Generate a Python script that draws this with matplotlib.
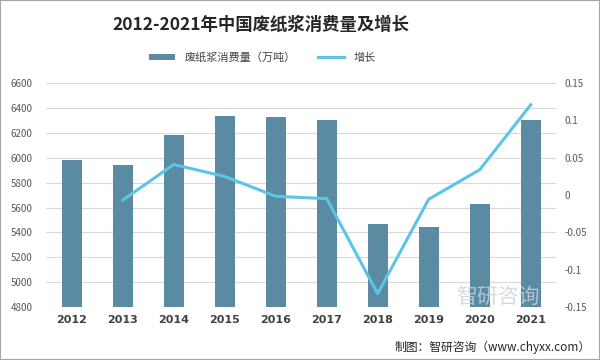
import numpy as np
import matplotlib.pyplot as plt
from matplotlib.patches import Rectangle

plt.rcParams['font.family'] = ['Noto Sans CJK SC', 'DejaVu Sans']

# Data
years = ['2012', '2013', '2014', '2015', '2016', '2017', '2018', '2019', '2020', '2021']
consumption = [5980, 5940, 6185, 6340, 6330, 6300, 5470, 5440, 5625, 6305]  # 万吨
growth_years = ['2013', '2014', '2015', '2016', '2017', '2018', '2019', '2020', '2021']
growth = [-0.0067, 0.041, 0.025, -0.0016, -0.0047, -0.132, -0.0055, 0.034, 0.121]

BAR_COLOR = '#5a8ba2'
LINE_COLOR = '#5cc4e8'
TICK_COLOR = '#595959'

fig = plt.figure(figsize=(6, 3.6), dpi=100)
fig.patches.append(Rectangle((0, 0), 1, 1, transform=fig.transFigure,
                             fill=False, edgecolor='#a6a6a6', linewidth=1.5))

ax = fig.add_axes([0.077, 0.147, 0.85, 0.622])
x = np.arange(len(years))
bars = ax.bar(x, consumption, width=0.39, color=BAR_COLOR, zorder=2)
ax.set_ylim(4800, 6600)
ax.set_yticks(np.arange(4800, 6601, 200))
ax.set_xlim(-0.5, len(years) - 0.5)
ax.set_xticks(x)
ax.set_xticklabels(years, fontweight='bold', fontsize=8, color='#404040',
                   family=['DejaVu Sans'])
ax.tick_params(axis='y', labelsize=7, labelcolor=TICK_COLOR, length=0, pad=10)
ax.tick_params(axis='x', length=0, pad=6)
ax.grid(axis='y', color='#d9d9d9', linewidth=0.8, zorder=0)
for s in ax.spines.values():
    s.set_visible(False)

ax2 = ax.twinx()
gx = [years.index(y) for y in growth_years]
line, = ax2.plot(gx, growth, color=LINE_COLOR, linewidth=2.2, zorder=3)
ax2.set_ylim(-0.15, 0.15)
ax2.set_yticks([-0.15, -0.1, -0.05, 0, 0.05, 0.1, 0.15])
ax2.set_yticklabels(['-0.15', '-0.1', '-0.05', '0', '0.05', '0.1', '0.15'])
ax2.tick_params(axis='y', labelsize=7, labelcolor=TICK_COLOR, length=0, pad=6)
for s in ax2.spines.values():
    s.set_visible(False)

fig.text(0.435, 0.93, '2012-2021年中国废纸浆消费量及增长', ha='center', va='center',
         fontsize=12.5, fontweight='bold', color='#262626')
fig.legend([bars, line], ['废纸浆消费量（万吨）', '增长'], loc='center',
           bbox_to_anchor=(0.437, 0.84), ncol=2, frameon=False, fontsize=8,
           handlelength=2.4, handleheight=0.5, columnspacing=2, labelcolor='#404040')

# watermark and source note
fig.text(0.83, 0.175, '智研咨询', ha='center', va='center', fontsize=15,
         color='#c9d3dc', alpha=0.8, zorder=0)
fig.text(0.985, 0.035, '制图：智研咨询（www.chyxx.com）', ha='right', va='center',
         fontsize=8.5, color='#262626')

fig.savefig('out.png', dpi=100)
